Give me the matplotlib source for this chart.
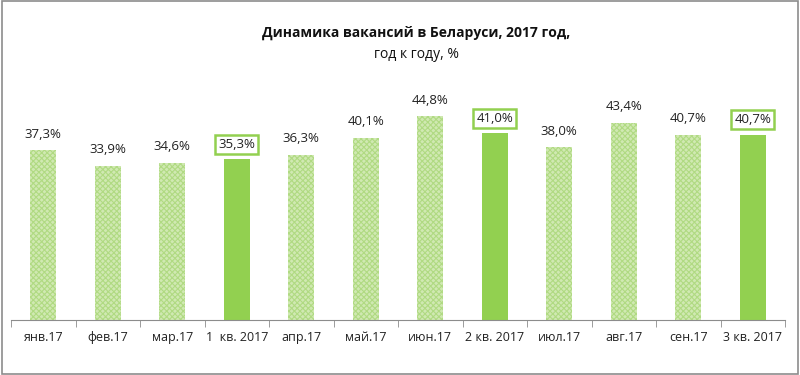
import matplotlib
matplotlib.use("Agg")
import matplotlib.pyplot as plt
from matplotlib.patches import Rectangle

plt.rcParams['font.family'] = ['Open Sans', 'DejaVu Sans']
plt.rcParams['hatch.linewidth'] = 0.8

categories = ["янв.17", "фев.17", "мар.17", "1  кв. 2017", "апр.17", "май.17",
              "июн.17", "2 кв. 2017", "июл.17", "авг.17", "сен.17", "3 кв. 2017"]
values = [37.3, 33.9, 34.6, 35.3, 36.3, 40.1, 44.8, 41.0, 38.0, 43.4, 40.7, 40.7]
labels = ["37,3%", "33,9%", "34,6%", "35,3%", "36,3%", "40,1%",
          "44,8%", "41,0%", "38,0%", "43,4%", "40,7%", "40,7%"]
quarter = [False, False, False, True, False, False,
           False, True, False, False, False, True]

solid = '#92d050'
light = '#d0e9b2'
hatchc = '#b0da82'

fig = plt.figure(figsize=(8, 3.75), dpi=100)
ax = fig.add_axes([11/800, 55/375, 774/800, 227.5/375])

x = list(range(len(categories)))
for i, v in enumerate(values):
    if quarter[i]:
        ax.bar(i, v, width=0.4, color=solid, linewidth=0)
    else:
        ax.bar(i, v, width=0.4, facecolor=light, edgecolor=hatchc, hatch='xxxxxx', linewidth=0)

for i, v in enumerate(values):
    if quarter[i]:
        ax.annotate(labels[i], (i, v), xytext=(0, 11), textcoords='offset points',
                    ha='center', va='center', fontsize=9.5, color='#222222',
                    bbox=dict(boxstyle='square,pad=0.22', fc='white', ec=solid, lw=1.8))
    else:
        ax.annotate(labels[i], (i, v), xytext=(0, 11.5), textcoords='offset points',
                    ha='center', va='center', fontsize=9.5, color='#222222')

ax.set_xlim(-0.5, len(categories) - 0.5)
ax.set_ylim(0, 50)
for s in ['top', 'right', 'left']:
    ax.spines[s].set_visible(False)
ax.spines['bottom'].set_color('#8c8c8c')
ax.set_yticks([])
ax.set_xticks(x)
ax.set_xticklabels(categories, fontsize=9, color='#222222')
ax.tick_params(axis='x', which='major', length=0, pad=8)
ax.set_xticks([i - 0.5 for i in range(len(categories) + 1)], minor=True)
ax.tick_params(axis='x', which='minor', length=5, color='#8c8c8c', direction='out')

fig.text(0.52, 1 - 33/375, "Динамика вакансий в Беларуси, 2017 год,", ha='center', va='center',
         fontsize=10, fontweight='bold', color='#111111')
fig.text(0.52, 1 - 54/375, "год к году, %", ha='center', va='center',
         fontsize=10, color='#111111')

fig.patches.append(Rectangle((0.002, 0.003), 0.996, 0.994, transform=fig.transFigure,
                             fill=False, edgecolor='#8c8c8c', linewidth=1.2))

fig.savefig("out.png", dpi=100)
